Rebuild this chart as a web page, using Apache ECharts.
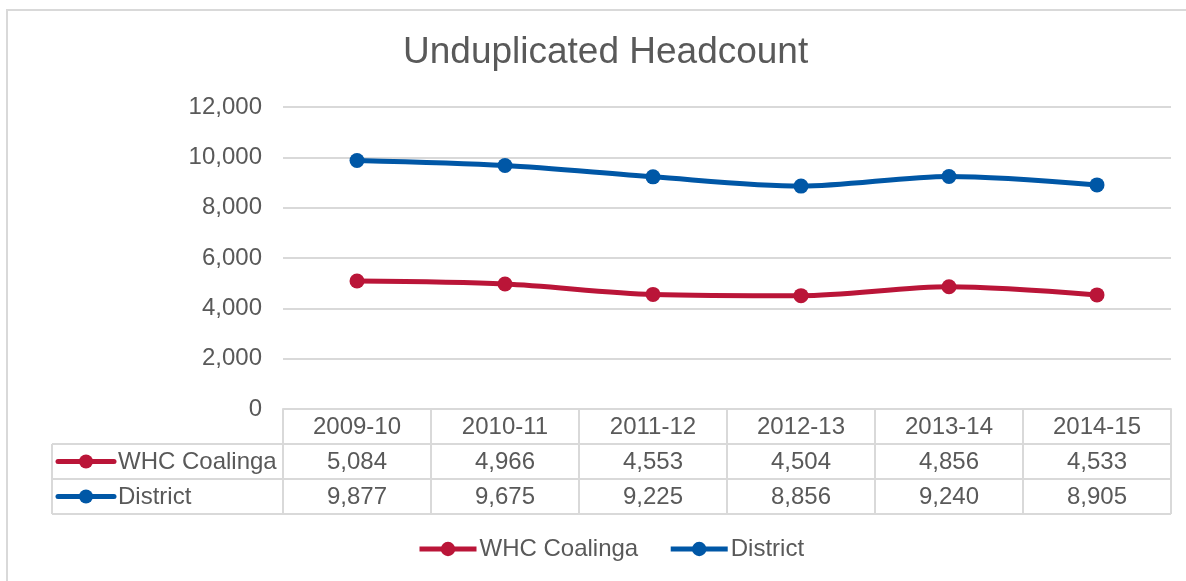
<!DOCTYPE html>
<html>
<head>
<meta charset="utf-8">
<script src="https://cdn.jsdelivr.net/npm/echarts@6/dist/echarts.min.js"></script>
<style>
  html, body { margin: 0; padding: 0; background: #fff; }
  #chart { width: 1186px; height: 581px; }
</style>
</head>
<body>
<div id="chart"></div>
<script>
// data
const years = ['2009-10', '2010-11', '2011-12', '2012-13', '2013-14', '2014-15'];
const whcCoalinga = [5084, 4966, 4553, 4504, 4856, 4533];
const district = [9877, 9675, 9225, 8856, 9240, 8905];
const seriesNames = ['WHC Coalinga', 'District'];
const yMin = 0, yMax = 12000, yStep = 2000;

const colors = ['#BA1538', '#0057A6'];
const font = '"Liberation Sans", Arial, sans-serif';
const textColor = '#595959';
const borderColor = '#d9d9d9';

const fmt = v => v.toLocaleString('en-US');

const chart = echarts.init(document.getElementById('chart'));

chart.setOption({
    animation: false,
    textStyle: { fontFamily: font },
    title: {
        text: 'Unduplicated Headcount',
        left: 398, top: 29,
        textStyle: { fontSize: 37, fontWeight: 'normal', color: textColor, fontFamily: font }
    },
    legend: {
        data: seriesNames,
        left: 417, top: 537, padding: 0,
        itemWidth: 57, itemHeight: 18, itemGap: 30,
        lineStyle: { width: 5 },
        textStyle: { fontSize: 24, color: textColor, fontFamily: font, padding: [0, 0, 0, -2] }
    },
    grid: { left: 283, right: 15, top: 107, bottom: 172 },
    xAxis: {
        type: 'category',
        data: years,
        boundaryGap: true,
        axisLine: { show: true, lineStyle: { color: borderColor, width: 2 } },
        axisTick: { show: false },
        axisLabel: { show: false }
    },
    yAxis: {
        type: 'value',
        min: yMin, max: yMax, interval: yStep,
        axisLine: { show: false },
        axisTick: { show: false },
        axisLabel: { fontSize: 24, color: textColor, margin: 21, formatter: v => fmt(v) },
        splitLine: { lineStyle: { color: borderColor, width: 2 } }
    },
    series: [whcCoalinga, district].map((d, i) => ({
        name: seriesNames[i],
        type: 'line',
        data: d,
        smooth: 0.3,
        symbol: 'circle',
        symbolSize: 15,
        lineStyle: { width: 5, color: colors[i] },
        itemStyle: { color: colors[i] }
    }))
});

// data table under the plot, positioned from the category axis
function drawTable() {
    const rows = [whcCoalinga, district];
    const centers = years.map(y => chart.convertToPixel({ xAxisIndex: 0 }, y));
    const band = centers[1] - centers[0];
    const colLeft = centers[0] - band / 2;
    const colRight = centers[centers.length - 1] + band / 2;
    const top = chart.convertToPixel({ yAxisIndex: 0 }, yMin);
    const rowH = 35;
    const tableLeft = 52;
    const bottom = top + (rows.length + 1) * rowH;
    const els = [];
    const line = (x1, y1, x2, y2) => els.push({
        type: 'line', shape: { x1, y1, x2, y2 },
        style: { stroke: borderColor, lineWidth: 2 }, silent: true
    });
    const text = (str, x, y, align) => els.push({
        type: 'text', x, y,
        style: { text: str, fill: textColor, font: '24px ' + font, align: align, verticalAlign: 'middle' },
        silent: true
    });

    // horizontal lines
    line(colLeft, top, colRight, top);
    for (let r = 1; r <= rows.length + 1; r++) line(tableLeft, top + r * rowH, colRight, top + r * rowH);
    // vertical lines
    line(tableLeft, top + rowH, tableLeft, bottom);
    for (let c = 0; c <= years.length; c++) {
        const x = colLeft + c * band;
        line(x, top, x, bottom);
    }
    // header
    years.forEach((y, c) => text(y, centers[c], top + rowH / 2 + 1, 'center'));
    // rows
    rows.forEach((vals, r) => {
        const cy = top + (r + 1.5) * rowH;
        els.push({ type: 'line', shape: { x1: tableLeft + 6, y1: cy, x2: tableLeft + 62, y2: cy },
            style: { stroke: colors[r], lineWidth: 5, lineCap: 'round' }, silent: true });
        els.push({ type: 'circle', shape: { cx: tableLeft + 34, cy: cy, r: 7 },
            style: { fill: colors[r] }, silent: true });
        text(seriesNames[r], tableLeft + 66, cy + 1, 'left');
        vals.forEach((v, c) => text(fmt(v), centers[c], cy + 1, 'center'));
    });
    // outer chart border
    els.push({ type: 'rect', shape: { x: 7, y: 10, width: 1200, height: 600 },
        style: { fill: 'none', stroke: borderColor, lineWidth: 2 }, silent: true, z: -1 });

    chart.setOption({ graphic: { elements: els } });
}
drawTable();
</script>
</body>
</html>
